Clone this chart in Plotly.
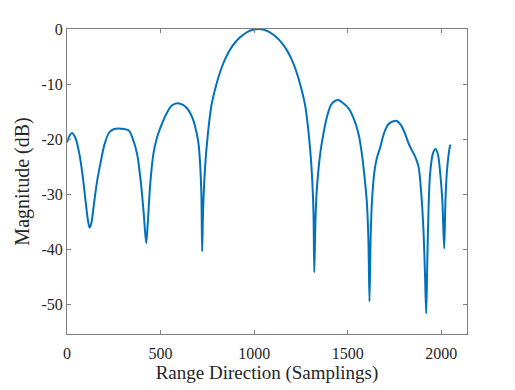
import plotly.graph_objects as go

# samples (sample index, magnitude in dB)
samples = [0, 15, 27, 45, 65, 85, 100, 112, 121, 130, 145, 160, 178, 200, 225, 249,
           290, 329, 350, 374, 395, 410, 423, 432, 445, 462, 480, 498, 534, 560, 591,
           620, 641, 660, 676, 692, 703, 712, 718, 722,
           727, 733, 741, 750, 760, 772, 797, 822, 847, 872, 897, 922, 947, 972, 997,
           1022, 1047, 1072, 1097, 1122, 1147, 1172, 1197, 1222, 1247, 1272, 1284,
           1294, 1303, 1311, 1317, 1321, 1328, 1335, 1353,
           1370, 1390, 1410, 1430, 1450, 1476, 1504, 1530, 1558, 1575, 1590, 1602,
           1610, 1616, 1622, 1629, 1642, 1655, 1673, 1695, 1717, 1740, 1762, 1785,
           1807, 1825, 1842, 1860, 1878, 1893, 1905, 1913, 1919, 1925, 1932, 1940,
           1955, 1970, 1983, 1994, 2005, 2015, 2022, 2029, 2038, 2047]
magnitude_db = [-20.6, -19.3, -18.9, -19.8, -22.5, -27.0, -31.5, -34.8, -36.1, -35.3,
                -31.5, -27.8, -24.5, -21.0, -18.8, -18.2, -18.1, -18.4, -19.8, -22.6,
                -28.0, -33.5, -38.9, -35.0, -28.0, -22.6, -19.8, -18.0, -15.2, -13.9,
                -13.5, -13.8, -14.4, -15.4, -16.7, -18.8, -20.9, -25.0, -30.0, -40.4,
                -33.0, -28.0, -23.5, -20.0, -16.8, -13.8, -10.2, -7.4, -5.3, -3.7,
                -2.5, -1.6, -0.9, -0.4, -0.1,
                0.0, -0.1, -0.4, -0.9, -1.6, -2.5, -3.7, -5.3, -7.4, -10.2, -13.8, -16.8,
                -20.0, -23.5, -28.0, -33.5, -44.2, -34.0, -29.0, -22.6,
                -19.0, -15.8, -13.8, -13.1, -12.9, -13.5, -14.4, -16.1, -19.1, -22.6,
                -27.0, -31.5, -38.0, -49.5, -38.0, -31.5, -26.0, -23.5, -21.5, -18.8,
                -17.3, -16.8, -16.7, -17.5, -19.1, -20.8, -22.0, -23.2, -25.0, -30.0,
                -37.0, -45.0, -51.7, -42.0, -32.0, -26.2, -22.6, -21.8, -23.0, -26.2,
                -31.0, -39.9, -31.0, -26.2, -23.0, -21.0]

x_ticks = [0, 500, 1000, 1500, 2000]
y_ticks = [0, -10, -20, -30, -40, -50]
y_tick_labels = ["0", "-10", "-20", "-30", "-40", "-50"]

fig = go.Figure(go.Scatter(
    x=samples, y=magnitude_db, mode="lines",
    line=dict(color="#0072BD", width=2, shape="spline", smoothing=0.8),
    showlegend=False,
))

axis_style = dict(
    showline=True, mirror="ticks", linecolor="#808080", linewidth=1,
    ticks="inside", ticklen=4, tickcolor="#808080",
    showgrid=False, zeroline=False,
    tickfont=dict(family="Liberation Serif", size=16, color="#262626"),
)

fig.update_xaxes(range=[0, 2137], tickvals=x_ticks, ticklabelstandoff=5,
                 title=dict(text="Range Direction (Samplings)", standoff=2,
                            font=dict(family="Liberation Serif", size=19, color="#262626")),
                 **axis_style)
fig.update_yaxes(range=[-55.4, 0], tickvals=y_ticks, ticktext=y_tick_labels,
                 title=dict(text="Magnitude (dB)", standoff=6,
                            font=dict(family="Liberation Serif", size=20, color="#262626")),
                 **axis_style)

# the page body adds an 8px margin, so the figure is drawn 8px smaller
fig.update_layout(
    width=507, height=382,
    paper_bgcolor="white", plot_bgcolor="white",
    margin=dict(l=59, r=48, t=21, b=48),
)

fig.write_html("out.html")
